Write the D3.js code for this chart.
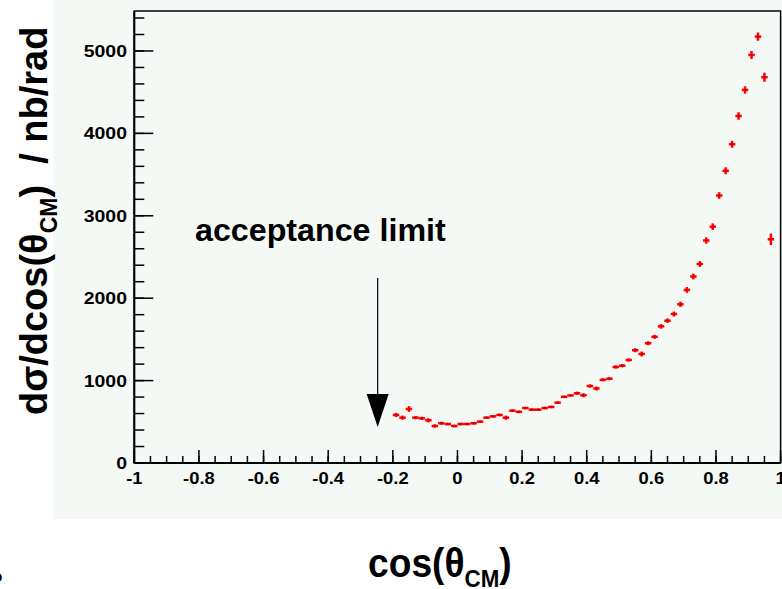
<!DOCTYPE html>
<html><head><meta charset="utf-8">
<script src="https://cdn.jsdelivr.net/npm/d3@7"></script>
<style>
html,body{margin:0;padding:0;background:#fff;overflow:hidden}
svg{display:block}
text{font-family:"Liberation Sans",Arial,Helvetica,sans-serif;font-weight:bold}
</style></head>
<body>
<svg id="c" width="782" height="589"></svg>
<script>
// ---- data ----
const cosTheta = [-0.19,-0.17,-0.15,-0.13,-0.11,-0.09,-0.07,-0.05,-0.03,-0.01,
  0.01,0.03,0.05,0.07,0.09,0.11,0.13,0.15,0.17,0.19,
  0.21,0.23,0.25,0.27,0.29,0.31,0.33,0.35,0.37,0.39,
  0.41,0.43,0.45,0.47,0.49,0.51,0.53,0.55,0.57,0.59,
  0.61,0.63,0.65,0.67,0.69,0.71,0.73,0.75,0.77,0.79,
  0.81,0.83,0.85,0.87,0.89,0.91,0.93,0.95,0.97];
const xsec = [583,550,655,550,542,518,449,482,473,449,
  473,473,482,501,550,566,583,550,635,621,
  667,647,647,667,680,732,803,820,846,822,
  934,904,1009,1023,1165,1181,1250,1368,1323,1453,
  1531,1658,1727,1808,1926,2100,2263,2415,2700,2868,
  3246,3546,3868,4211,4527,4952,5174,4681,2715];
const xsecErr = [25,25,35,20,20,25,20,18,15,15,
  15,15,15,15,15,15,15,25,15,15,
  15,15,15,15,15,15,15,15,20,25,
  20,25,18,18,20,20,20,25,30,25,
  25,28,28,30,32,35,35,35,38,40,
  40,42,42,45,45,48,50,55,70];
const binHalfWidth = 0.01;
const xMajorTicks = [-1,-0.8,-0.6,-0.4,-0.2,0,0.2,0.4,0.6,0.8,1];
const xTickLabels = ["-1","-0.8","-0.6","-0.4","-0.2","0","0.2","0.4","0.6","0.8","1"];
const yMajorTicks = [0,1000,2000,3000,4000,5000];
const yTickLabels = ["0","1000","2000","3000","4000","5000"];
const xDomain = [-1, 1];
const yDomain = [0, 5485];
const annotation = "acceptance limit";
const acceptanceLimit = -0.25;

// ---- drawing ----
const svg = d3.select("#c");
const X0 = 134.3, X1 = 780.6, Y0 = 463, Y1 = 11;
const x = d3.scaleLinear().domain(xDomain).range([X0, X1]);
const y = d3.scaleLinear().domain(yDomain).range([Y0, Y1]);

// panel background
svg.append("rect").attr("x",53).attr("y",0).attr("width",782-53).attr("height",519).attr("fill","#f5f9f6");

// frame
svg.append("rect").attr("x",X0).attr("y",Y1).attr("width",X1-X0).attr("height",Y0-Y1)
  .attr("fill","none").attr("stroke","#000").attr("stroke-width",1.5);

// x ticks
const xMinor = d3.range(-1, 1.0001, 0.05).map(v => +v.toFixed(2));
const gx = svg.append("g");
gx.selectAll("line.mn").data(xMinor).join("line")
  .attr("x1",d=>x(d)).attr("x2",d=>x(d)).attr("y1",Y0).attr("y2",Y0-7)
  .attr("stroke","#000").attr("stroke-width",1.5);
gx.selectAll("line.mj").data(xMajorTicks).join("line")
  .attr("x1",d=>x(d)).attr("x2",d=>x(d)).attr("y1",Y0).attr("y2",Y0-13)
  .attr("stroke","#000").attr("stroke-width",1.5);
gx.selectAll("text").data(xMajorTicks).join("text")
  .attr("transform",d=>`translate(${x(d)},484) scale(1.15,1)`).attr("text-anchor","middle")
  .attr("font-size",16).text((d,i)=>xTickLabels[i]);

// y ticks
const yMinor = d3.range(0, 5401, 200);
const gy = svg.append("g");
gy.selectAll("line.mn").data(yMinor).join("line")
  .attr("x1",X0).attr("x2",X0+10).attr("y1",d=>y(d)).attr("y2",d=>y(d))
  .attr("stroke","#000").attr("stroke-width",1.5);
gy.selectAll("line.mj").data(yMajorTicks).join("line")
  .attr("x1",X0).attr("x2",X0+19).attr("y1",d=>y(d)).attr("y2",d=>y(d))
  .attr("stroke","#000").attr("stroke-width",1.5);
gy.selectAll("text").data(yMajorTicks).join("text")
  .attr("transform",d=>`translate(127,${y(d)+6}) scale(1.18,1)`).attr("text-anchor","end")
  .attr("font-size",16.5).text((d,i)=>yTickLabels[i]);

// axis lines thicker
svg.append("line").attr("x1",X0).attr("x2",X0).attr("y1",Y1).attr("y2",Y0).attr("stroke","#000").attr("stroke-width",2);
svg.append("line").attr("x1",X0).attr("x2",X1).attr("y1",Y0).attr("y2",Y0).attr("stroke","#000").attr("stroke-width",2);

// data points with error bars
const pts = svg.append("g");
const data = cosTheta.map((c,i)=>({c, v:xsec[i], e:xsecErr[i]}));
pts.selectAll("line.h").data(data).join("line")
  .attr("x1",d=>x(d.c-binHalfWidth)).attr("x2",d=>x(d.c+binHalfWidth))
  .attr("y1",d=>y(d.v)).attr("y2",d=>y(d.v))
  .attr("stroke","#ff0000").attr("stroke-width",2.5);
pts.selectAll("line.v").data(data).join("line")
  .attr("x1",d=>x(d.c)).attr("x2",d=>x(d.c))
  .attr("y1",d=>y(d.v-d.e)).attr("y2",d=>y(d.v+d.e))
  .attr("stroke","#ff0000").attr("stroke-width",2.5);
pts.selectAll("rect").data(data).join("rect")
  .attr("x",d=>x(d.c)-0.5).attr("y",d=>y(d.v)-0.5).attr("width",1).attr("height",1)
  .attr("fill","#600");

// annotation
svg.append("text").attr("transform","translate(195,241) scale(1.04,1)").attr("font-size",31).text(annotation);
const ax = x(acceptanceLimit) + 1;
svg.append("line").attr("x1",ax).attr("x2",ax).attr("y1",278).attr("y2",396).attr("stroke","#000").attr("stroke-width",1.2);
svg.append("path").attr("d",d3.line()([[ax-11,394],[ax+11,394],[ax,427]])+"Z").attr("fill","#000");

// x axis title
const xt = svg.append("text").attr("transform","translate(368,577) scale(0.93,1)").attr("font-size",40);
xt.append("tspan").text("cos(θ");
xt.append("tspan").attr("font-size",24).attr("dy",10).text("CM");
xt.append("tspan").attr("dy",-10).text(")");

// y axis title
const yt = svg.append("text").attr("transform","translate(47,415) rotate(-90)").attr("font-size",38);
yt.append("tspan").text("dσ/dcos(θ");
yt.append("tspan").attr("font-size",23).attr("dy",10).text("CM");
yt.append("tspan").attr("dy",-10).text(")\u00a0\u00a0/ nb/rad");

// cut-off glyph at bottom-left
svg.append("text").attr("x",-8).attr("y",582).attr("font-size",17).text("o");
</script>
</body></html>
